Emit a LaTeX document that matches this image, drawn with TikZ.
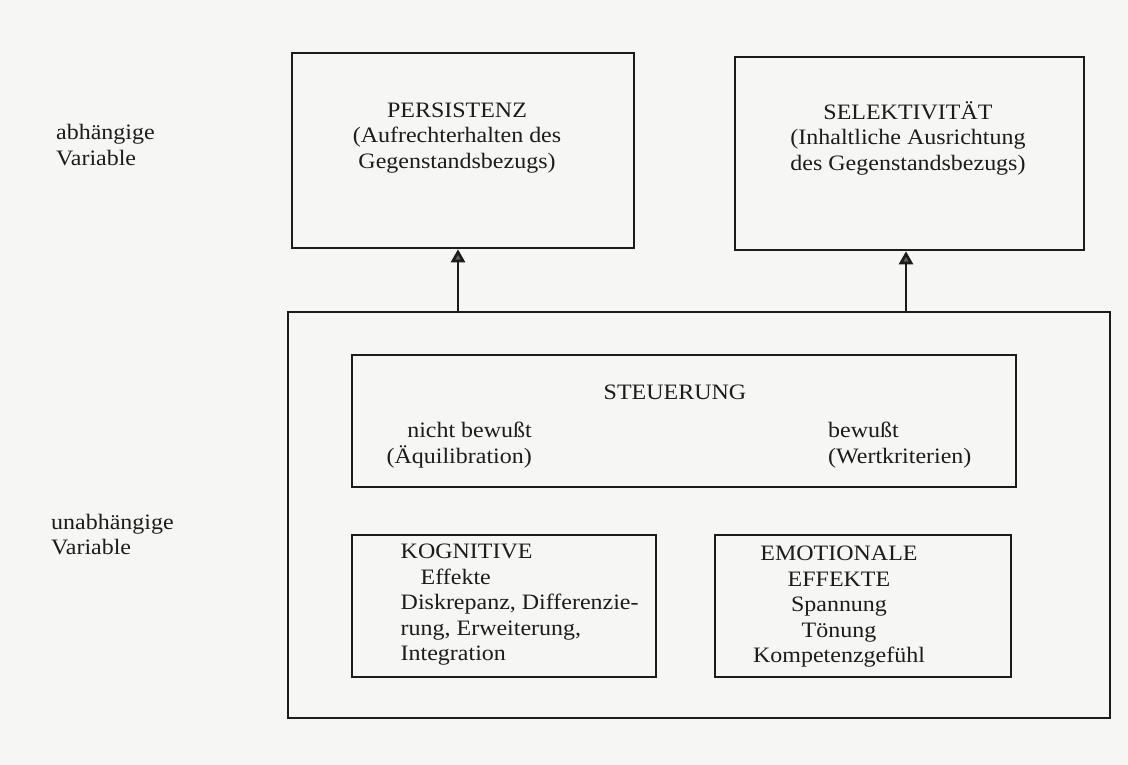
\documentclass[tikz,border=0pt]{standalone}
\usepackage{fontspec}
\setmainfont{Liberation Serif}[FakeStretch=1.09]
\usetikzlibrary{arrows.meta}
\definecolor{paper}{RGB}{246,246,244}
\definecolor{ink}{RGB}{28,28,28}
\tikzset{
  frame/.style={draw=ink, line width=2.6pt, inner sep=0pt},
  txt/.style={text=ink, inner sep=0pt, font=\fontsize{22}{25.5}\selectfont},
  arr/.style={draw=ink, line width=2.6pt, -{Triangle[width=14pt,length=13pt,fill=ink!70]}}
}
\begin{document}
\begin{tikzpicture}[x=1pt,y=-1pt]
\fill[paper] (0,0) rectangle (1128,765);
\useasboundingbox (0,0) rectangle (1128,765);
% boxes
\node[frame, minimum width=342, minimum height=195] (persist) at (463,150.5) {};
\node[frame, minimum width=349, minimum height=193] (selekt) at (909.5,153.5) {};
\node[frame, minimum width=822, minimum height=406] (outer) at (699,515) {};
\node[frame, minimum width=664, minimum height=132] (steuer) at (684,421) {};
\node[frame, minimum width=304, minimum height=142] (kogn) at (504,606) {};
\node[frame, minimum width=296, minimum height=142] (emot) at (863,606) {};
% texts
\node[txt, align=center] (tpersist) at (457,138) {PERSISTENZ\\(Aufrechterhalten des\\Gegenstandsbezugs)};
\node[txt, align=center] (tselekt) at (908,138) {SELEKTIVITÄT\\(Inhaltliche Ausrichtung\\des Gegenstandsbezugs)};
\node[txt, align=left, anchor=west] (tabh) at (56,145) {abhängige\\Variable};
\node[txt, align=left, anchor=west] (tunabh) at (51,534.5) {unabhängige\\Variable};
\node[txt] (tsteuer) at (675,392) {STEUERUNG};
\node[txt, align=right, anchor=east] (tnicht) at (532,445) {nicht bewußt\\(Äquilibration)};
\node[txt, align=left, anchor=west] (tbew) at (828,445) {bewußt\\(Wertkriterien)};
\node[txt, align=left, anchor=west] (tkogn) at (400.5,605) {KOGNITIVE\\\hspace*{20pt}Effekte\\Diskrepanz, Differenzie-\\rung, Erweiterung,\\Integration};
\node[txt, align=center] (temot) at (839,607) {EMOTIONALE\\EFFEKTE\\Spannung\\Tönung\\Kompetenzgefühl};
% connectors
\coordinate (a1) at (458,312);
\coordinate (a2) at (906,312);
\draw[arr] (a1) -- (a1 |- persist.south);
\draw[arr] (a2) -- (a2 |- selekt.south);
\end{tikzpicture}
\end{document}
